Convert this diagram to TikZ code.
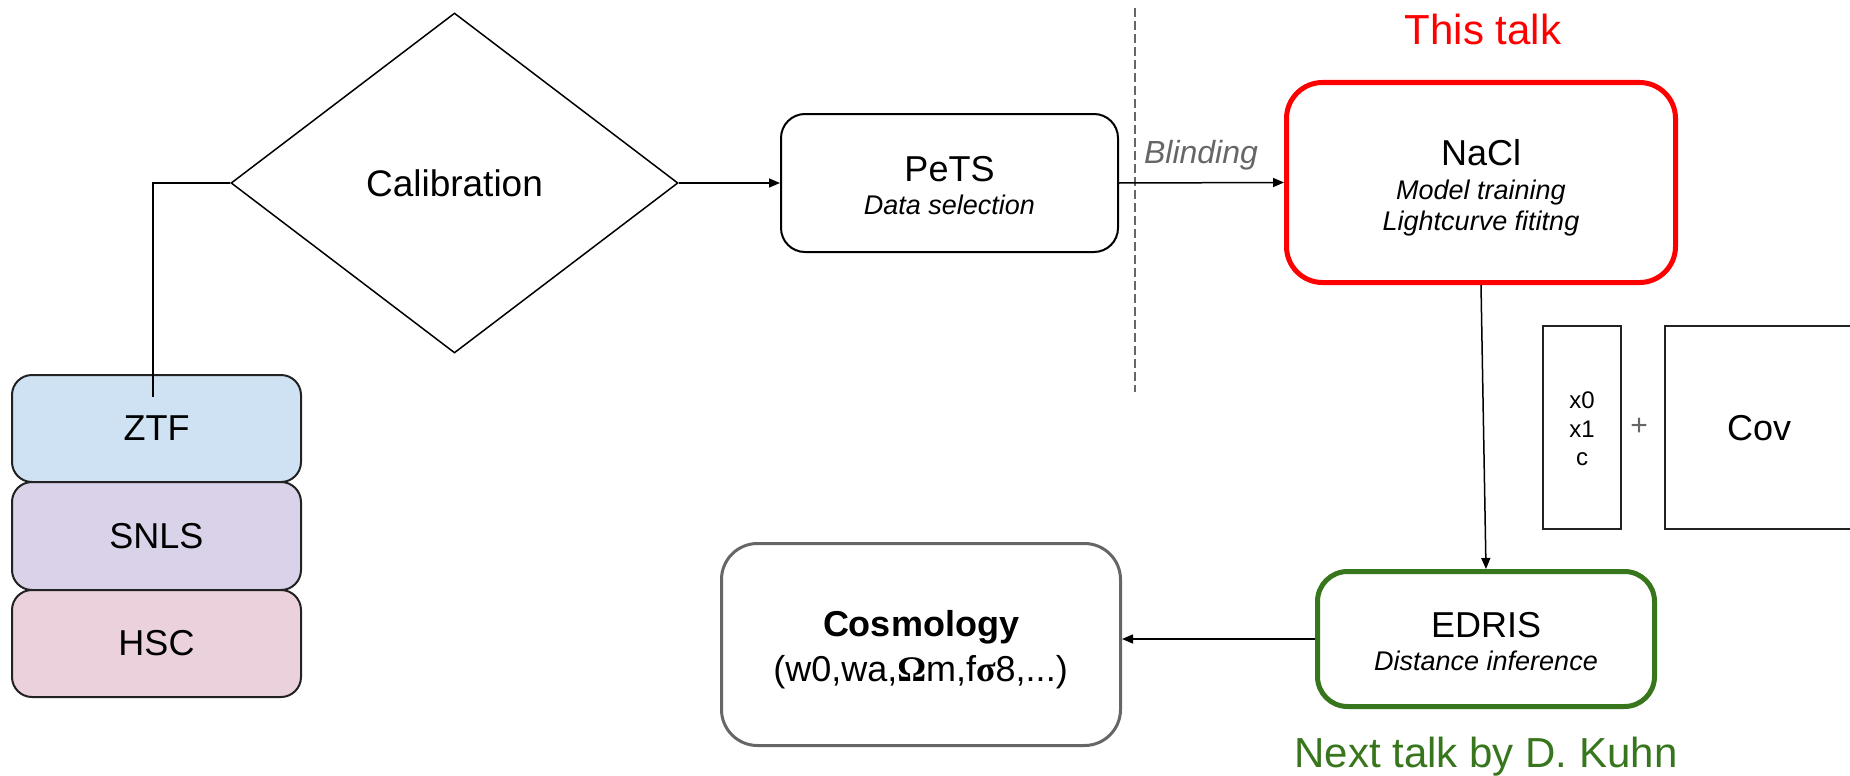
\documentclass[tikz,border=0pt]{standalone}
\usepackage{fontspec}
\setmainfont{Liberation Sans}
\newfontfamily\grkserif{Liberation Serif}
\usetikzlibrary{arrows.meta,shapes.geometric}
\definecolor{ztfc}{HTML}{CFE2F3}
\definecolor{snlsc}{HTML}{D9D2E9}
\definecolor{hscc}{HTML}{EAD1DC}
\definecolor{talkred}{HTML}{FF0000}
\definecolor{talkgreen}{HTML}{38761D}
\definecolor{midgray}{HTML}{666666}
\definecolor{edgegray}{HTML}{222222}
\newcommand{\fsz}[1]{\fontsize{#1}{#1}\selectfont}
\begin{document}
\begin{tikzpicture}[x=1pt,y=-1pt,
  rbox/.style={draw=black, line width=2pt, rounded corners=24pt, inner sep=0pt},
  survey/.style={draw=edgegray, line width=2pt, rounded corners=20pt, inner sep=0pt,
    minimum width=289pt, font=\fsz{36}},
  sqbox/.style={draw=edgegray, line width=2pt, inner sep=0pt},
  txt/.style={inner sep=0pt, anchor=base},
  big/.style={font=\fsz{36}},
  sub/.style={font=\fsz{27}\itshape},
  arr/.style={line width=1.5pt, -{Triangle[length=11pt,width=9pt]}},
  conn/.style={line width=1.5pt}
]
\useasboundingbox (0,0) rectangle (1850,776);
\clip (0,0) rectangle (1850,776);

% survey stack
\node[survey, fill=ztfc, minimum height=107pt] (ztf) at (156.5,428.5) {ZTF};
\node[survey, fill=snlsc, minimum height=108pt] (snls) at (156.5,536) {SNLS};
\node[survey, fill=hscc, minimum height=107pt] (hsc) at (156.5,643.5) {HSC};

% calibration diamond
\node[diamond, draw=black, line width=1.5pt, inner sep=0pt, minimum width=447pt,
  minimum height=340pt, font=\fsz{37}] (cal) at (454.5,183) {Calibration};

% PeTS
\node[rbox, minimum width=337pt, minimum height=138pt] (pets) at (949.5,183) {};
\node[txt, big] (petsT) at (949.5,181) {PeTS};
\node[txt, sub] (petsS) at (949.5,214) {Data selection};

% blinding separator
\coordinate (sepTop) at (1135,8);
\coordinate (sepBot) at (1135,392);
\draw[midgray, line width=2pt, dash pattern=on 9pt off 4pt] (sepTop) -- (sepBot);

% NaCl
\node[rbox, draw=talkred, line width=5pt, rounded corners=36pt, minimum width=389pt,
  minimum height=200pt] (nacl) at (1481,182.5) {};
\node[txt, font=\fsz{42}, text=talkred] (thistalk) at (1483,45) {This talk};
\node[txt, big] (naclT) at (1481,165) {NaCl};
\node[txt, sub] (naclS1) at (1481,199) {Model training};
\node[txt, sub] (naclS2) at (1481,230) {Lightcurve fititng};

% x0 x1 c and Cov
\node[sqbox, minimum width=78pt, minimum height=203pt] (xvec) at (1582,427.5) {};
\node[txt, font=\fsz{24}] (xa) at (1582,408) {x0};
\node[txt, font=\fsz{24}] (xb) at (1582,437) {x1};
\node[txt, font=\fsz{24}] (xc) at (1582,465) {c};
\node[inner sep=0pt, font=\fsz{30}, text=midgray] (plus) at (1639,427) {+};
\node[sqbox, minimum width=240pt, minimum height=203pt] (cov) at (1785,427.5) {};
\node[txt, big] (covT) at (1759,440) {Cov};

% EDRIS
\node[rbox, draw=talkgreen, line width=5pt, rounded corners=30pt, minimum width=337pt,
  minimum height=135pt] (edris) at (1486,639) {};
\node[txt, big] (edrisT) at (1486,637) {EDRIS};
\node[txt, sub] (edrisS) at (1486,670) {Distance inference};
\node[txt, font=\fsz{42}, text=talkgreen] (nexttalk) at (1486,767) {Next talk by D. Kuhn};

% Cosmology
\node[rbox, draw=midgray, line width=3pt, rounded corners=36pt, minimum width=399pt,
  minimum height=202pt] (cosmo) at (921,644.5) {};
\node[txt, font=\fsz{36}\bfseries] (cosmoT) at (921,636) {Cosmology};
\node[txt, big] (cosmoS) at (920.5,681) {(w0,wa,{\grkserif\bfseries Ω}m,f{\grkserif\bfseries σ}8,...)};

% connectors
\coordinate (ztfin) at (153,397);
\draw[conn] (cal.west) -| (ztfin);
\draw[arr] (cal.east) -- (pets.west);
\draw[arr] (pets.east) -- (nacl.west);
\node[txt, font=\fsz{32}\itshape, text=midgray] (blind) at (1201,163) {Blinding};
\draw[arr] (nacl.south) -- (edris.north);
\draw[arr] (edris.west) -- (edris.west -| cosmo.east);
\end{tikzpicture}
\end{document}
